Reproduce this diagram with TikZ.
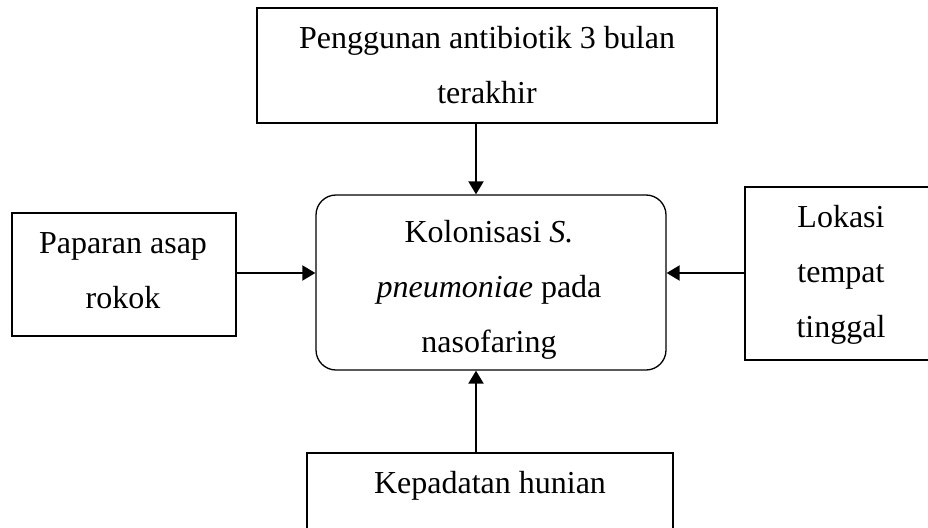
\documentclass[tikz,border=0pt]{standalone}
\usepackage{fontspec}
\setmainfont{Liberation Serif}
\usetikzlibrary{arrows.meta}
\newcommand\hstrut{\rule{0pt}{22pt}}
\begin{document}
\begin{tikzpicture}[x=1pt,y=-1pt,
  box/.style={draw, line width=1.3pt, inner sep=0pt},
  lbl/.style={font=\fontsize{32}{55}\selectfont, align=center, inner sep=0pt, anchor=north},
  arr/.style={line width=2pt, -{Triangle[length=13pt,width=15pt]}}]
\useasboundingbox (0,0) rectangle (928,527);
\clip (0,0) rectangle (928,527);
% boxes
\node[box, minimum width=460pt, minimum height=115pt] (top) at (487,65.5) {};
\node[box, rounded corners=20pt, minimum width=350pt, minimum height=175pt] (ctr) at (491,282.5) {};
\node[box, minimum width=224pt, minimum height=123pt] (left) at (124,274.5) {};
\node[box, minimum width=192pt, minimum height=173pt] (right) at (841,273.5) {};
\node[box, minimum width=366pt, minimum height=100pt] (bot) at (490,503) {};
% labels
\node[lbl] (ttop) at (487,26) {\hstrut Penggunan antibiotik 3 bulan\\terakhir};
\node[lbl] (tctr) at (489,220) {\hstrut Kolonisasi \textit{S.}\\\textit{pneumoniae} pada\\nasofaring};
\node[lbl] (tleft) at (123,231) {\hstrut Paparan asap\\rokok};
\node[lbl] (tright) at (841,205) {\hstrut Lokasi\\tempat\\tinggal};
\node[lbl] (tbot) at (490,471) {\hstrut Kepadatan hunian};
% connectors
\coordinate (ta) at ([xshift=-15pt]ctr.north);
\coordinate (ba) at ([xshift=-15pt]ctr.south);
\coordinate (la) at ([yshift=1.5pt]left.east);
\coordinate (ra) at ([yshift=0.5pt]right.west);
\draw[arr] (top.south -| ta) -- (ta);
\draw[arr] (la) -- (la -| ctr.west);
\draw[arr] (ra) -- (ra -| ctr.east);
\draw[arr] (bot.north -| ba) -- (ba);
\end{tikzpicture}
\end{document}
